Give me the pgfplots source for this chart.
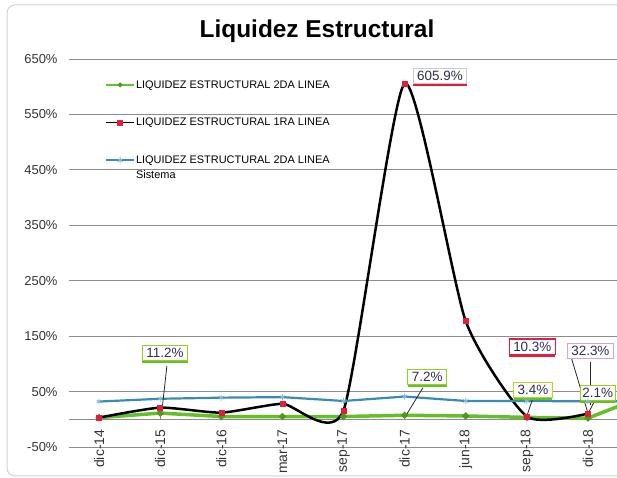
\documentclass[border=0pt]{standalone}
\usepackage{fontspec}
\setmainfont{Liberation Sans}
\usepackage{pgfplots}
\pgfplotsset{compat=1.18}
\usetikzlibrary{shadows}

\definecolor{cgreen}{RGB}{102,190,40}
\definecolor{cblue}{RGB}{55,140,180}
\definecolor{cred}{RGB}{225,30,60}
\definecolor{ctext}{RGB}{45,45,85}
\definecolor{cgrid}{RGB}{140,140,140}

\tikzset{
  dl/.style 2 args={fill=white, draw=#1, line width=0.9bp, inner xsep=4bp, inner ysep=3bp,
    font=\fontsize{13.5}{15}\selectfont, text=ctext,
    drop shadow={fill=#2, shadow xshift=0bp, shadow yshift=-2.5bp, opacity=1}},
  dlplain/.style={fill=white, draw=#1, line width=0.9bp, inner xsep=4bp, inner ysep=3bp,
    font=\fontsize{13.5}{15}\selectfont, text=ctext},
  lead/.style={draw=black!85, line width=0.8bp}
}

\begin{document}
\begin{tikzpicture}[x=1bp,y=1bp]
\useasboundingbox (0,0) rectangle (617,478);
\draw[gray!35, line width=1bp, rounded corners=8bp] (7,2) rectangle (700,473);
\node[anchor=base, font=\bfseries\fontsize{24.5}{29}\selectfont] at (317,440) {Liquidez Estructural};
\begin{axis}[
  at={(68.5bp,31bp)}, anchor=south west,
  scale only axis, width=550bp, height=388bp,
  xmin=-0.5, xmax=8.5, ymin=-50, ymax=650,
  axis x line*=middle, axis y line*=left,
  y axis line style={draw=none},
  x axis line style={cgrid, line width=0.8bp},
  ytick={-50,50,150,250,350,450,550,650},
  ytick style={draw=none},
  /pgf/number format/assume math mode=true,
  yticklabel={\pgfmathprintnumber{\tick}\%},
  yticklabel style={font=\fontsize{13}{15}\selectfont, text=black!80, xshift=-7.5bp},
  ymajorgrids, major grid style={cgrid, line width=0.8bp},
  xtick={0,...,8},
  xticklabels={dic-14,dic-15,dic-16,mar-17,sep-17,dic-17,jun-18,sep-18,dic-18},
  xticklabel style={rotate=90, anchor=east, font=\fontsize{14}{16}\selectfont, text=black!80},
  xticklabel shift=7bp,
  xtick style={cgrid, line width=0.8bp}, major tick length=5bp,
  legend style={at={(axis description cs:0.0664,0.948)}, anchor=north west,
    draw=none, fill=none, inner sep=0pt, row sep=26.5bp,
    font=\fontsize{11}{13}\selectfont, nodes={inner sep=1bp, text=black}},
  legend cell align=left,
  legend image code/.code={\draw[mark repeat=2,mark phase=2,#1, line width=1.8bp] plot coordinates {(0bp,0bp) (14bp,0bp) (28bp,0bp)};},
]
\addplot[cgreen, line width=3.5bp, mark=*, mark size=1.3bp, mark options={fill=cgreen!80!black, draw=cgreen!80!black}]
  coordinates {(0,3) (1,11.2) (2,5) (3,5) (4,5) (5,7.2) (6,6) (7,3.4) (8,2.1) (9,45)};
\addlegendentry{LIQUIDEZ ESTRUCTURAL 2DA LINEA}
\addplot[black, line width=2.5bp, smooth, tension=0.35, mark=square*, mark size=2.5bp, mark options={fill=cred, draw=cred, line width=0.5bp}]
  coordinates {(0,3) (1,21) (2,12) (3,28) (4,16) (5,605.9) (6,177) (7,5) (8,10.3)};
\addlegendentry{LIQUIDEZ ESTRUCTURAL 1RA LINEA}
\addplot[cblue, line width=2.2bp, mark=asterisk, mark size=3bp, mark options={cblue!60, line width=0.8bp}]
  coordinates {(0,32) (1,37) (2,39) (3,40) (4,33) (5,41) (6,33) (7,33) (8,32.3) (9,33)};
\addlegendentry{\smash{\makebox[0pt][l]{\raisebox{-15bp}{Sistema}}}LIQUIDEZ ESTRUCTURAL 2DA LINEA}

% leader lines
\draw[lead] (axis cs:1.11,96) -- (axis cs:1.03,17);
\draw[lead] (axis cs:5.30,57) -- (axis cs:5.04,10);
\draw[lead] (axis cs:7.66,136) -- (axis cs:8.0,11);
\draw[lead] (axis cs:8.04,103) -- (axis cs:8.04,26);
\draw[lead] (axis cs:7.09,35) -- (axis cs:7.0,6);
\draw[lead] (axis cs:8.10,31) -- (axis cs:8.0,10);

% data labels
\node[dl={gray!40}{cred}] at (axis cs:5.58,619) {605.9\%};
\node[dl={cgreen!70!yellow}{cgreen}] at (axis cs:1.08,120) {11.2\%};
\node[dl={cgreen!70!yellow}{cgreen}] at (axis cs:5.37,76.5) {7.2\%};
\node[dl={cred}{cred}, line width=1.5bp] at (axis cs:7.09,130.6) {10.3\%};
\node[dlplain={violet!35}] at (axis cs:8.04,123) {32.3\%};
\node[dl={yellow!70!green}{cgreen}] at (axis cs:7.10,53) {3.4\%};
\node[dl={cgreen!70!yellow}{cgreen}, inner xsep=2bp] at (axis cs:8.16,47.5) {2.1\%};
\end{axis}
\end{tikzpicture}
\end{document}
